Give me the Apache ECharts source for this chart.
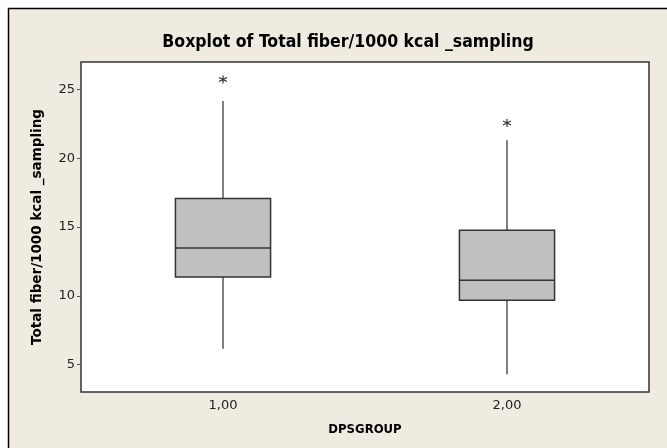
<!DOCTYPE html>
<html>
<head>
<meta charset="utf-8">
<script src="https://cdn.jsdelivr.net/npm/echarts@6/dist/echarts.min.js"></script>
<style>
  html, body { margin: 0; padding: 0; background: #ffffff; }
  #chart { width: 667px; height: 448px; }
</style>
</head>
<body>
<div id="chart"></div>
<script>
// 分组
const groups = ["1,00", "2,00"];
// 每组的 [下须, Q1, 中位数, Q3, 上须]
const lowWhisker = [6.15, 4.3];
const q1 = [11.37, 9.68];
const median = [13.48, 11.13];
const q3 = [17.07, 14.77];
const highWhisker = [24.17, 21.31];
// 异常值 [组序号, 值]
const outliers = [[0, 25.73], [1, 22.57]];
const yTicks = [5, 10, 15, 20, 25];

const boxData = groups.map((g, i) => [i, lowWhisker[i], q1[i], median[i], q3[i], highWhisker[i]]);

const chart = echarts.init(document.getElementById("chart"));

function renderBox(params, api) {
  const x = api.value(0);
  const lo = api.coord([x, api.value(1)]);
  const b1 = api.coord([x, api.value(2)]);
  const md = api.coord([x, api.value(3)]);
  const b3 = api.coord([x, api.value(4)]);
  const hi = api.coord([x, api.value(5)]);
  const half = api.size([1, 0])[0] * 0.335 / 2;
  const cx = md[0];
  const whisker = { stroke: "#555555", lineWidth: 1.5 };
  return {
    type: "group",
    children: [
      { type: "line", shape: { x1: cx, y1: hi[1], x2: cx, y2: b3[1] }, style: whisker },
      { type: "line", shape: { x1: cx, y1: b1[1], x2: cx, y2: lo[1] }, style: whisker },
      {
        type: "rect",
        shape: { x: cx - half, y: b3[1], width: half * 2, height: b1[1] - b3[1] },
        style: { fill: "#c0c0c0", stroke: "#333333", lineWidth: 1.5 }
      },
      { type: "line", shape: { x1: cx - half, y1: md[1], x2: cx + half, y2: md[1] }, style: { stroke: "#333333", lineWidth: 1.5 } }
    ]
  };
}

let option = {
  backgroundColor: "#ffffff",
  animation: false,
  graphic: [
    {
      type: "rect",
      z: -10,
      shape: { x: 8.5, y: 8.5, width: 700, height: 500 },
      style: { fill: "#efebe1", stroke: "#000000", lineWidth: 1.5 }
    }
  ],
  title: {
    text: "Boxplot of Total fiber/1000 kcal _sampling",
    left: 343,
    top: 28,
    textAlign: "center",
    textStyle: {
      fontFamily: "Liberation Sans Narrow, DejaVu Sans Condensed, sans-serif",
      fontWeight: "bold",
      fontSize: 17.5,
      color: "#000000"
    }
  },
  grid: {
    left: 81,
    right: 18,
    top: 62,
    bottom: 56,
    show: true,
    backgroundColor: "#ffffff",
    borderColor: "#333333",
    borderWidth: 1.5
  },
  xAxis: {
    type: "category",
    data: groups,
    name: "DPSGROUP",
    nameLocation: "middle",
    nameGap: 31,
    nameTextStyle: { fontFamily: "DejaVu Sans Condensed, sans-serif", fontWeight: "bold", fontSize: 13, color: "#000000" },
    axisLine: { show: false },
    axisTick: { alignWithLabel: true, length: 4, lineStyle: { color: "#555555" } },
    axisLabel: { fontFamily: "DejaVu Sans, sans-serif", fontSize: 13, color: "#222222", margin: 7 },
    splitLine: { show: false }
  },
  yAxis: {
    type: "value",
    min: 3,
    max: 27,
    name: "Total fiber/1000 kcal _sampling",
    nameLocation: "middle",
    nameGap: 37,
    nameTextStyle: { fontFamily: "DejaVu Sans, sans-serif", fontWeight: "bold", fontSize: 13.5, color: "#000000" },
    axisLine: { show: false },
    axisTick: { show: true, length: 4, customValues: yTicks, lineStyle: { color: "#555555" } },
    axisLabel: { customValues: yTicks, fontFamily: "DejaVu Sans, sans-serif", fontSize: 13, color: "#222222", margin: 6 },
    splitLine: { show: false }
  },
  series: [
    {
      type: "custom",
      renderItem: renderBox,
      encode: { x: 0, y: [1, 2, 3, 4, 5] },
      data: boxData
    },
    {
      type: "scatter",
      data: outliers,
      symbol: "path://M0,-4L0,4M-3.5,-2L3.5,2M-3.5,2L3.5,-2",
      symbolSize: 8,
      itemStyle: { color: "transparent", borderColor: "#000000", borderWidth: 1.2 }
    }
  ]
};

option && chart.setOption(option);
</script>
</body>
</html>
